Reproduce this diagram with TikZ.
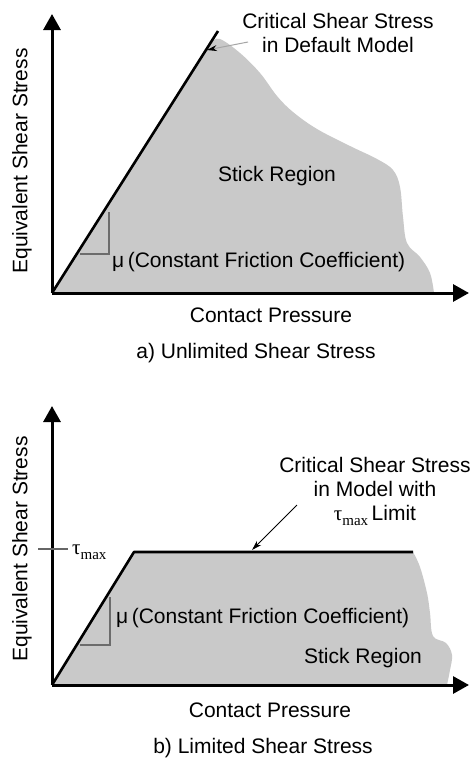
\documentclass[tikz,border=0pt]{standalone}
\usepackage{fontspec}
\setmainfont{Liberation Sans}
\newfontfamily\serifgr{Liberation Serif}
\usetikzlibrary{arrows.meta}
\begin{document}
\begin{tikzpicture}[x=1pt,y=-1pt,
  lbl/.style={font=\fontsize{21}{24}\selectfont, inner sep=0pt, align=center},
  axisline/.style={line width=3pt, -{Triangle[length=16pt,width=17pt]}},
  crit/.style={line width=2.6pt, line join=round},
  slope/.style={line width=1.6pt, draw=gray!85!black},
  region/.style={fill=gray!42, draw=none},
  leader/.style={line width=1pt, -{Stealth[length=10pt,width=6pt]}},
  tick/.style={line width=1.2pt, draw=gray!80!black}]
\useasboundingbox (0,0) rectangle (469,758);
\fill[white] (0,0) rectangle (469,758);

% ---------- a) top ----------
\coordinate (oa) at (52,293);
\coordinate (ya) at (52,14);
\coordinate (xa) at (469,293);
\coordinate (ca) at (218,31);
\fill[region] (oa) -- plot[smooth, tension=0.6] coordinates {(211,42) (220,39) (240,53) (260,73) (277,96) (293,112) (317,129) (350,146) (377,159) (393,170) (400,187) (403,217) (407,243) (420,257) (430,273) (434,293)} -- cycle;
\draw[slope] (109,212) -- (109,254) -- (80,254);
\draw[crit] (oa) -- (ca);
\draw[axisline] (oa) -- (ya);
\draw[axisline] (oa) -- (xa);

\node[lbl, rotate=90] (eqa) at (22,161) {Equivalent Shear Stress};
\node[lbl] (cpa) at (271,315) {Contact Pressure};
\node[lbl] (tta) at (256,353) {a) Unlimited Shear Stress};
\node[lbl] (sra) at (277,176) {Stick Region};
\node[lbl, anchor=west] (mua) at (112,262) {μ\,(Constant Friction Coefficient)};
\node[lbl] (csa) at (338,33) {Critical Shear Stress\\in Default Model};
\coordinate (la1) at (248,42);
\coordinate (la2) at (207,50);
\draw[leader, draw=gray!70, -{Stealth[length=10pt,width=6pt,black]}] (la1) -- (la2);

% ---------- b) bottom ----------
\coordinate (ob) at (52,685);
\coordinate (yb) at (52,406);
\coordinate (xb) at (469,685);
\coordinate (kb) at (134,552);
\coordinate (eb) at (413,552);
\fill[region] (ob) -- (kb) -- plot[smooth, tension=0.6] coordinates {(413,552) (420,567) (427,593) (430,613) (433,636) (446,643) (452,655) (450,670) (447,685)} -- cycle;
\draw[slope] (110,597) -- (110,645) -- (80,645);
\draw[crit] (ob) -- (kb) -- (eb);
\draw[axisline] (ob) -- (yb);
\draw[axisline] (ob) -- (xb);
\coordinate (t1) at (38,549);
\coordinate (t2) at (68,549);
\draw[tick] (t1) -- (t2);
\node[inner sep=0pt, anchor=west] (taub) at (72,552) {\fontsize{21}{24}\serifgr τ\raisebox{-5pt}{\fontsize{15}{15}\selectfont max}};

\node[lbl, rotate=90] (eqb) at (22,549) {Equivalent Shear Stress};
\node[lbl] (cpb) at (270,710) {Contact Pressure};
\node[lbl] (ttb) at (263,748) {b) Limited Shear Stress};
\node[lbl] (srb) at (363,658) {Stick Region};
\node[lbl, anchor=west] (mub) at (116,618) {μ\,(Constant Friction Coefficient)};
\node[lbl] (csb) at (375,491) {Critical Shear Stress\\in Model with\\{\serifgr τ\raisebox{-5pt}{\fontsize{15}{15}\selectfont max}}\,Limit};
\coordinate (lb1) at (297,505);
\coordinate (lb2) at (252,550);
\draw[leader] (lb1) -- (lb2);
\end{tikzpicture}
\end{document}
